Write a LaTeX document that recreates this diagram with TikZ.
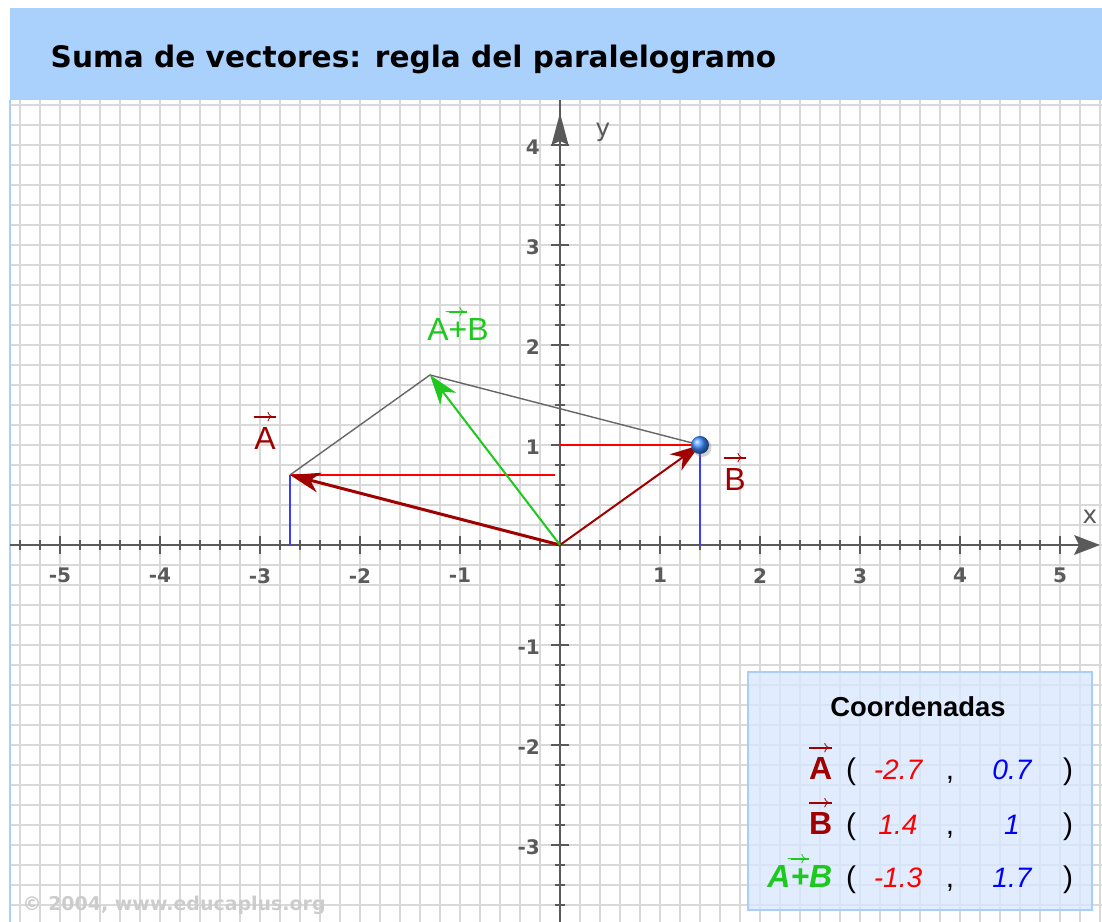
\documentclass[tikz,border=0pt]{standalone}
\usepackage{amsmath}
\usepackage{graphicx}
\usepackage{fontspec}
\setmainfont{Liberation Sans}
\newfontfamily\verdana{DejaVu Sans}
\usetikzlibrary{arrows.meta}

\definecolor{titlebg}{RGB}{170,208,252}
\definecolor{vecred}{RGB}{160,0,0}
\definecolor{sumgreen}{RGB}{30,200,30}
\definecolor{projred}{RGB}{255,0,0}
\definecolor{projblue}{RGB}{60,60,255}
\definecolor{axisgray}{RGB}{90,90,90}
\definecolor{boxfill}{RGB}{215,232,255}
\definecolor{boxline}{RGB}{170,205,250}
\definecolor{ballblue}{RGB}{60,140,255}
\newsavebox\lblbox
\newcommand{\arrowover}[1]{\leavevmode\sbox\lblbox{#1}\rlap{\raisebox{\dimexpr\ht\lblbox+1.6pt\relax}{\rule[1.05pt]{\wd\lblbox}{0.5pt}\llap{\fontsize{5.5}{6}\selectfont$\rightarrow$}}}\usebox\lblbox}

\begin{document}
\begin{tikzpicture}
            \tikzset{gridline/.style = {draw=gray!30, line width=0.018cm}}
            \tikzset{axis/.style = {draw=axisgray, line width=0.014cm}}
            \tikzset{tick/.style = {draw=axisgray, line width=0.012cm}}
            \tikzset{num/.style = {font=\verdana\bfseries\fontsize{5.7}{6}\selectfont, text=axisgray, inner sep=1pt}}
            \tikzset{lbl/.style = {font=\fontsize{9.1}{10}\selectfont, inner sep=0pt}}
            \tikzset{val/.style = {font=\itshape\fontsize{8}{9}\selectfont, inner sep=0pt, anchor=base}}
            \tikzset{vec/.style = {line width=0.02cm, -{Stealth[length=0.3cm,width=0.2cm,inset=0.09cm]}}}
            \useasboundingbox (-5.6,-3.77) rectangle (5.42,5.45);
            \fill[white] (-5.6,-3.77) rectangle (5.42,5.45);

            % cuadricula
            \begin{scope}
            \clip (-5.5,-3.77) rectangle (5.42,4.45);
            \draw[gridline] (-5.6,-3.8) grid[step=0.2] (5.6,4.6);
            \end{scope}
            \draw[boxline, line width=0.015cm] (-5.5,-3.77) -- (-5.5,4.45);

            % titulo
            \fill[titlebg] (-5.5,4.45) rectangle (5.42,5.37);
            \node[font=\verdana\bfseries\fontsize{8.42}{10}\selectfont, anchor=base west, inner sep=0pt] (title) at (-5.1,4.77) {Suma de vectores: regla del paralelogramo};

            % ejes
            \draw[axis] (-5.5,0) -- (5.3,0);
            \draw[axis] (0,-3.77) -- (0,4.45);
            \fill[axisgray] (5.4,0) -- (5.14,0.1) -- (5.19,0) -- (5.14,-0.1) -- cycle;
            \fill[axisgray] (0,4.32) -- (0.085,4.0) -- (0,4.04) -- (-0.085,4.0) -- cycle;
            \foreach \i in {-27,...,26}
                \draw[tick] (\i*0.2,-0.05) -- (\i*0.2,0.05);
            \foreach \i in {-18,...,19}
                \draw[tick] (-0.05,\i*0.2) -- (0.05,\i*0.2);
            \foreach \i in {-5,...,5}
                \draw[tick] (\i,-0.09) -- (\i,0.09);
            \foreach \i in {-3,...,4}
                \draw[tick] (-0.09,\i) -- (0.09,\i);
            \foreach \i in {-5,...,-1}
                \node[num, anchor=north] (xn\i) at (\i,-0.19) {\i};
            \foreach \i in {1,...,5}
                \node[num, anchor=north] (xp\i) at (\i,-0.19) {\i};
            \foreach \i in {-3,...,-1}
                \node[num, anchor=east] (yn\i) at (-0.16,\i-0.02) {\i};
            \foreach \i in {1,...,4}
                \node[num, anchor=east] (yp\i) at (-0.16,\i-0.02) {\i};
            \node[font=\verdana\fontsize{7}{8}\selectfont, text=axisgray] (xl) at (5.3,0.28) {x};
            \node[font=\verdana\fontsize{7}{8}\selectfont, text=axisgray] (yl) at (0.43,4.13) {y};

            % puntos
            \coordinate (o) at (0,0);
            \coordinate (a) at (-2.7,0.7);
            \coordinate (b) at (1.4,1);
            \coordinate (s) at (-1.3,1.7);
            \coordinate (ax) at (-2.7,0);
            \coordinate (ay) at (-0.05,0.7);
            \coordinate (bx) at (1.4,0);
            \coordinate (by) at (0,1);

            % proyecciones
            \draw[projblue, line width=0.015cm] (ax) -- (a);
            \draw[projblue, line width=0.015cm] (bx) -- (b);
            \draw[projred, line width=0.015cm] (a) -- (ay);
            \draw[projred, line width=0.015cm] (by) -- (b);

            % paralelogramo
            \draw[gray!80!black, line width=0.014cm] (a) -- (s) -- (b);

            % vectores
            \draw[vec, vecred, line width=0.03cm] (o) -- (a);
            \draw[vec, vecred] (o) -- (b);
            \draw[vec, sumgreen] (o) -- (s);
            \fill[gray, opacity=0.35] ([xshift=0.2mm, yshift=-0.25mm]b) circle (0.095);
            \shade[ball color=ballblue] (b) circle (0.09);

            \node[lbl, text=vecred] (la) at (-2.95,1.13) {\arrowover{A}};
            \node[lbl, text=vecred] (lb) at (1.75,0.72) {\arrowover{B}};
            \node[lbl, text=sumgreen] (ls) at (-1.02,2.2) {A\arrowover{+}B};

            % tabla de coordenadas
            \draw[boxline, fill=boxfill, fill opacity=0.75, line width=0.012cm] (1.88,-1.27) rectangle (5.32,-3.65);
            \node[font=\bfseries\fontsize{7.8}{9}\selectfont, anchor=base, inner sep=0pt] (co) at (3.58,-1.72) {Coordenadas};
            \foreach \name/\yy/\lab/\xv/\yv in {ta/-2.35/{\arrowover{A}}/-2.7/0.7, tb/-2.90/{\arrowover{B}}/1.4/1, ts/-3.43/{\color{sumgreen}\itshape A\arrowover{+}B}/-1.3/1.7} {
                \node[val, anchor=base east, font=\bfseries\fontsize{9.1}{10}\selectfont, text=vecred] (\name l) at (2.73,\yy) {\lab};
                \node[val, font=\fontsize{8.5}{9}\selectfont] (\name p) at (2.91,\yy) {(};
                \node[val, text=projred] (\name x) at (3.38,\yy) {\xv};
                \node[val, font=\fontsize{8.5}{9}\selectfont] (\name c) at (3.9,\yy) {,};
                \node[val, text=blue] (\name y) at (4.52,\yy) {\yv};
                \node[val, font=\fontsize{8.5}{9}\selectfont] (\name q) at (5.08,\yy) {)};
            }

            % marca
            \node[font=\verdana\bfseries\fontsize{5.4}{6}\selectfont, text=gray!40, anchor=west, inner sep=0pt] (wm) at (-5.38,-3.6) {© 2004, www.educaplus.org};
\end{tikzpicture}
\end{document}
